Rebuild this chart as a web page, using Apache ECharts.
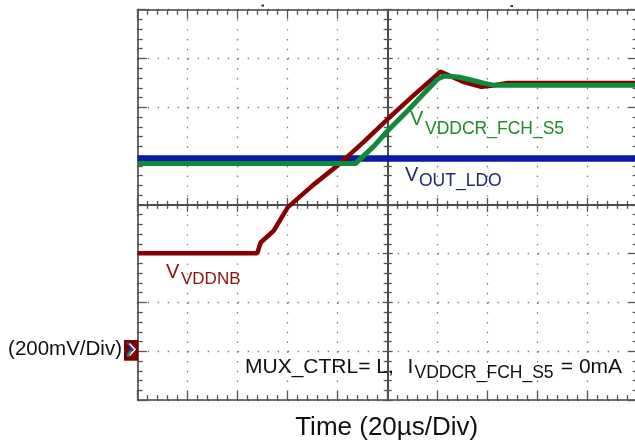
<!DOCTYPE html>
<html><head><meta charset="utf-8">
<script src="https://cdn.jsdelivr.net/npm/echarts@6/dist/echarts.min.js"></script>
<style>html,body{margin:0;padding:0;background:#fff}#c{width:635px;height:448px}</style>
</head><body><div id="c"></div>
<script>
// ---- data (time in µs relative to screen centre, voltage in mV relative to centre line) ----
const blueT  = [-100, 100];
const blueMV = [190, 190];

const redT  = [-100, -52.2, -50.8, -45.6, -40, -30, -20, -10, 0, 10, 20, 21, 30.8, 37.4, 41.4, 48, 100];
const redMV = [-198, -198, -154, -106, -10, 80, 162, 254, 352, 446, 536, 546, 502, 484, 488, 500, 500];

const greenT  = [-100, -12.8, -5.4, 0, 8, 14.8, 20, 22.8, 28.2, 33.4, 38.8, 42.8, 100];
const greenMV = [170, 170, 242, 304, 386, 460, 516, 528, 524, 512, 498, 490, 490];

const xRange = [-100, 100]; const xStep = 20;   // 20 µs / div
const yRange = [-800, 800]; const yStep = 200;  // 200 mV / div

const FONT = '"Liberation Sans", Arial, Helvetica, sans-serif';
const RED = '#860000', GREEN = '#0f8a3a', BLUE = '#0a1aa6';
const RED_T = '#8a1010', GREEN_T = '#1f8a26', BLUE_T = '#1c2d6e';

function pairs(t, v) { return t.map((x, i) => [x, v[i]]); }

const LINE = {color: '#444', width: 1.6};
const TICK = {color: '#555', width: 1.3};

function xAxis(position, onZero, inside, len, minorLen, split) {
  return {
    type: 'value', min: xRange[0], max: xRange[1], interval: xStep, position: position,
    axisLabel: {show: false},
    axisLine: {show: true, onZero: onZero, lineStyle: LINE},
    axisTick: {show: true, inside: inside, length: len, lineStyle: TICK},
    minorTick: {show: true, splitNumber: 5, length: minorLen, lineStyle: TICK},
    splitLine: split ? {show: true, lineStyle: {color: '#7a7a7a', width: 1.3, type: [1.4, 8.36]}} : {show: false},
    minorSplitLine: {show: false}
  };
}
function yAxis(position, onZero, inside, len, minorLen, split) {
  return {
    type: 'value', min: yRange[0], max: yRange[1], interval: yStep, position: position,
    axisLabel: {show: false},
    axisLine: {show: true, onZero: onZero, lineStyle: LINE},
    axisTick: {show: true, inside: inside, length: len, lineStyle: TICK},
    minorTick: {show: true, splitNumber: 5, length: minorLen, lineStyle: TICK},
    splitLine: split ? {show: true, lineStyle: {color: '#7a7a7a', width: 1.3, type: [1.4, 8.6]}} : {show: false},
    minorSplitLine: {show: false}
  };
}

function txt(text, x, y, fs, color, align) {
  return {type: 'text', silent: true, z: 100,
    style: {text: text, x: x, y: y, fill: color, fontSize: fs, fontFamily: FONT,
            align: align || 'left', verticalAlign: 'middle'}};
}

const chart = echarts.init(document.getElementById('c'), null, {renderer: 'canvas'});
chart.setOption({
  animation: false,
  backgroundColor: '#ffffff',
  grid: {left: 137.7, top: 9.7, width: 500, height: 390.4, outerBoundsMode: 'none', containLabel: false},
  xAxis: [
    xAxis('bottom', false, true, 9, 5, true),
    xAxis('top', false, true, 9, 5, false),
    xAxis('bottom', true, true, 7, 4, false),
    xAxis('bottom', true, false, 7, 4, false)
  ],
  yAxis: [
    yAxis('left', false, true, 9, 5, true),
    yAxis('right', false, true, 9, 5, false),
    yAxis('left', true, true, 5, 4, false),
    yAxis('left', true, false, 5, 4, false)
  ],
  series: [
    {name: 'VOUT_LDO', type: 'line', data: pairs(blueT, blueMV), symbol: 'none', silent: true, z: 2,
     lineStyle: {color: BLUE, width: 6.5}},
    {name: 'VVDDNB', type: 'line', data: pairs(redT, redMV), symbol: 'none', silent: true, z: 3,
     lineStyle: {color: RED, width: 4.5}},
    {name: 'VVDDCR_FCH_S5', type: 'line', data: pairs(greenT, greenMV), symbol: 'none', silent: true, z: 4,
     lineStyle: {color: GREEN, width: 5}}
  ],
  graphic: [
    txt('V', 410, 119.8, 20, GREEN_T),
    txt('VDDCR_FCH_S5', 425, 128.9, 17.5, GREEN_T),
    txt('V', 405, 175.4, 20, BLUE_T),
    txt('OUT_LDO', 419, 181.2, 17.5, BLUE_T),
    txt('V', 166, 272.4, 20, RED_T),
    txt('VDDNB', 181, 279.6, 17, RED_T),
    txt('(200mV/Div)', 122, 349.6, 20.5, '#111', 'right'),
    txt('MUX_CTRL= L,', 245, 367.2, 21, '#111'),
    txt('I', 407.5, 367.2, 21, '#111'),
    txt('VDDCR_FCH_S5', 414.5, 373.2, 17.5, '#111'),
    txt(' = 0mA', 555, 367.2, 21, '#111'),
    txt('Time (20µs/Div)', 386.7, 427.7, 26, '#111', 'center'),
    // channel ground marker
    {type: 'rect', silent: true, z: 90, shape: {x: 124, y: 340, width: 14.3, height: 20.7}, style: {fill: '#7a0000'}},
    {type: 'polyline', silent: true, z: 91, shape: {points: [[127, 342.5], [132.5, 348.5], [127, 354.5]]}, style: {stroke: '#2a3cc8', lineWidth: 2, fill: null}},
    {type: 'polyline', silent: true, z: 91, shape: {points: [[129.5, 343.5], [135, 349.5], [129.5, 355.5]]}, style: {stroke: '#ffffff', lineWidth: 1.6, fill: null}},
    {type: 'polyline', silent: true, z: 92, shape: {points: [[131, 351], [127.5, 356.5]]}, style: {stroke: '#2a9a4a', lineWidth: 2, fill: null}},
    // trigger marks above the graticule
    {type: 'rect', silent: true, z: 90, shape: {x: 261.5, y: 4.5, width: 2.5, height: 2}, style: {fill: '#333'}},
    {type: 'rect', silent: true, z: 90, shape: {x: 510.5, y: 5, width: 2.5, height: 2}, style: {fill: '#333'}}
  ]
});
</script>
</body></html>
